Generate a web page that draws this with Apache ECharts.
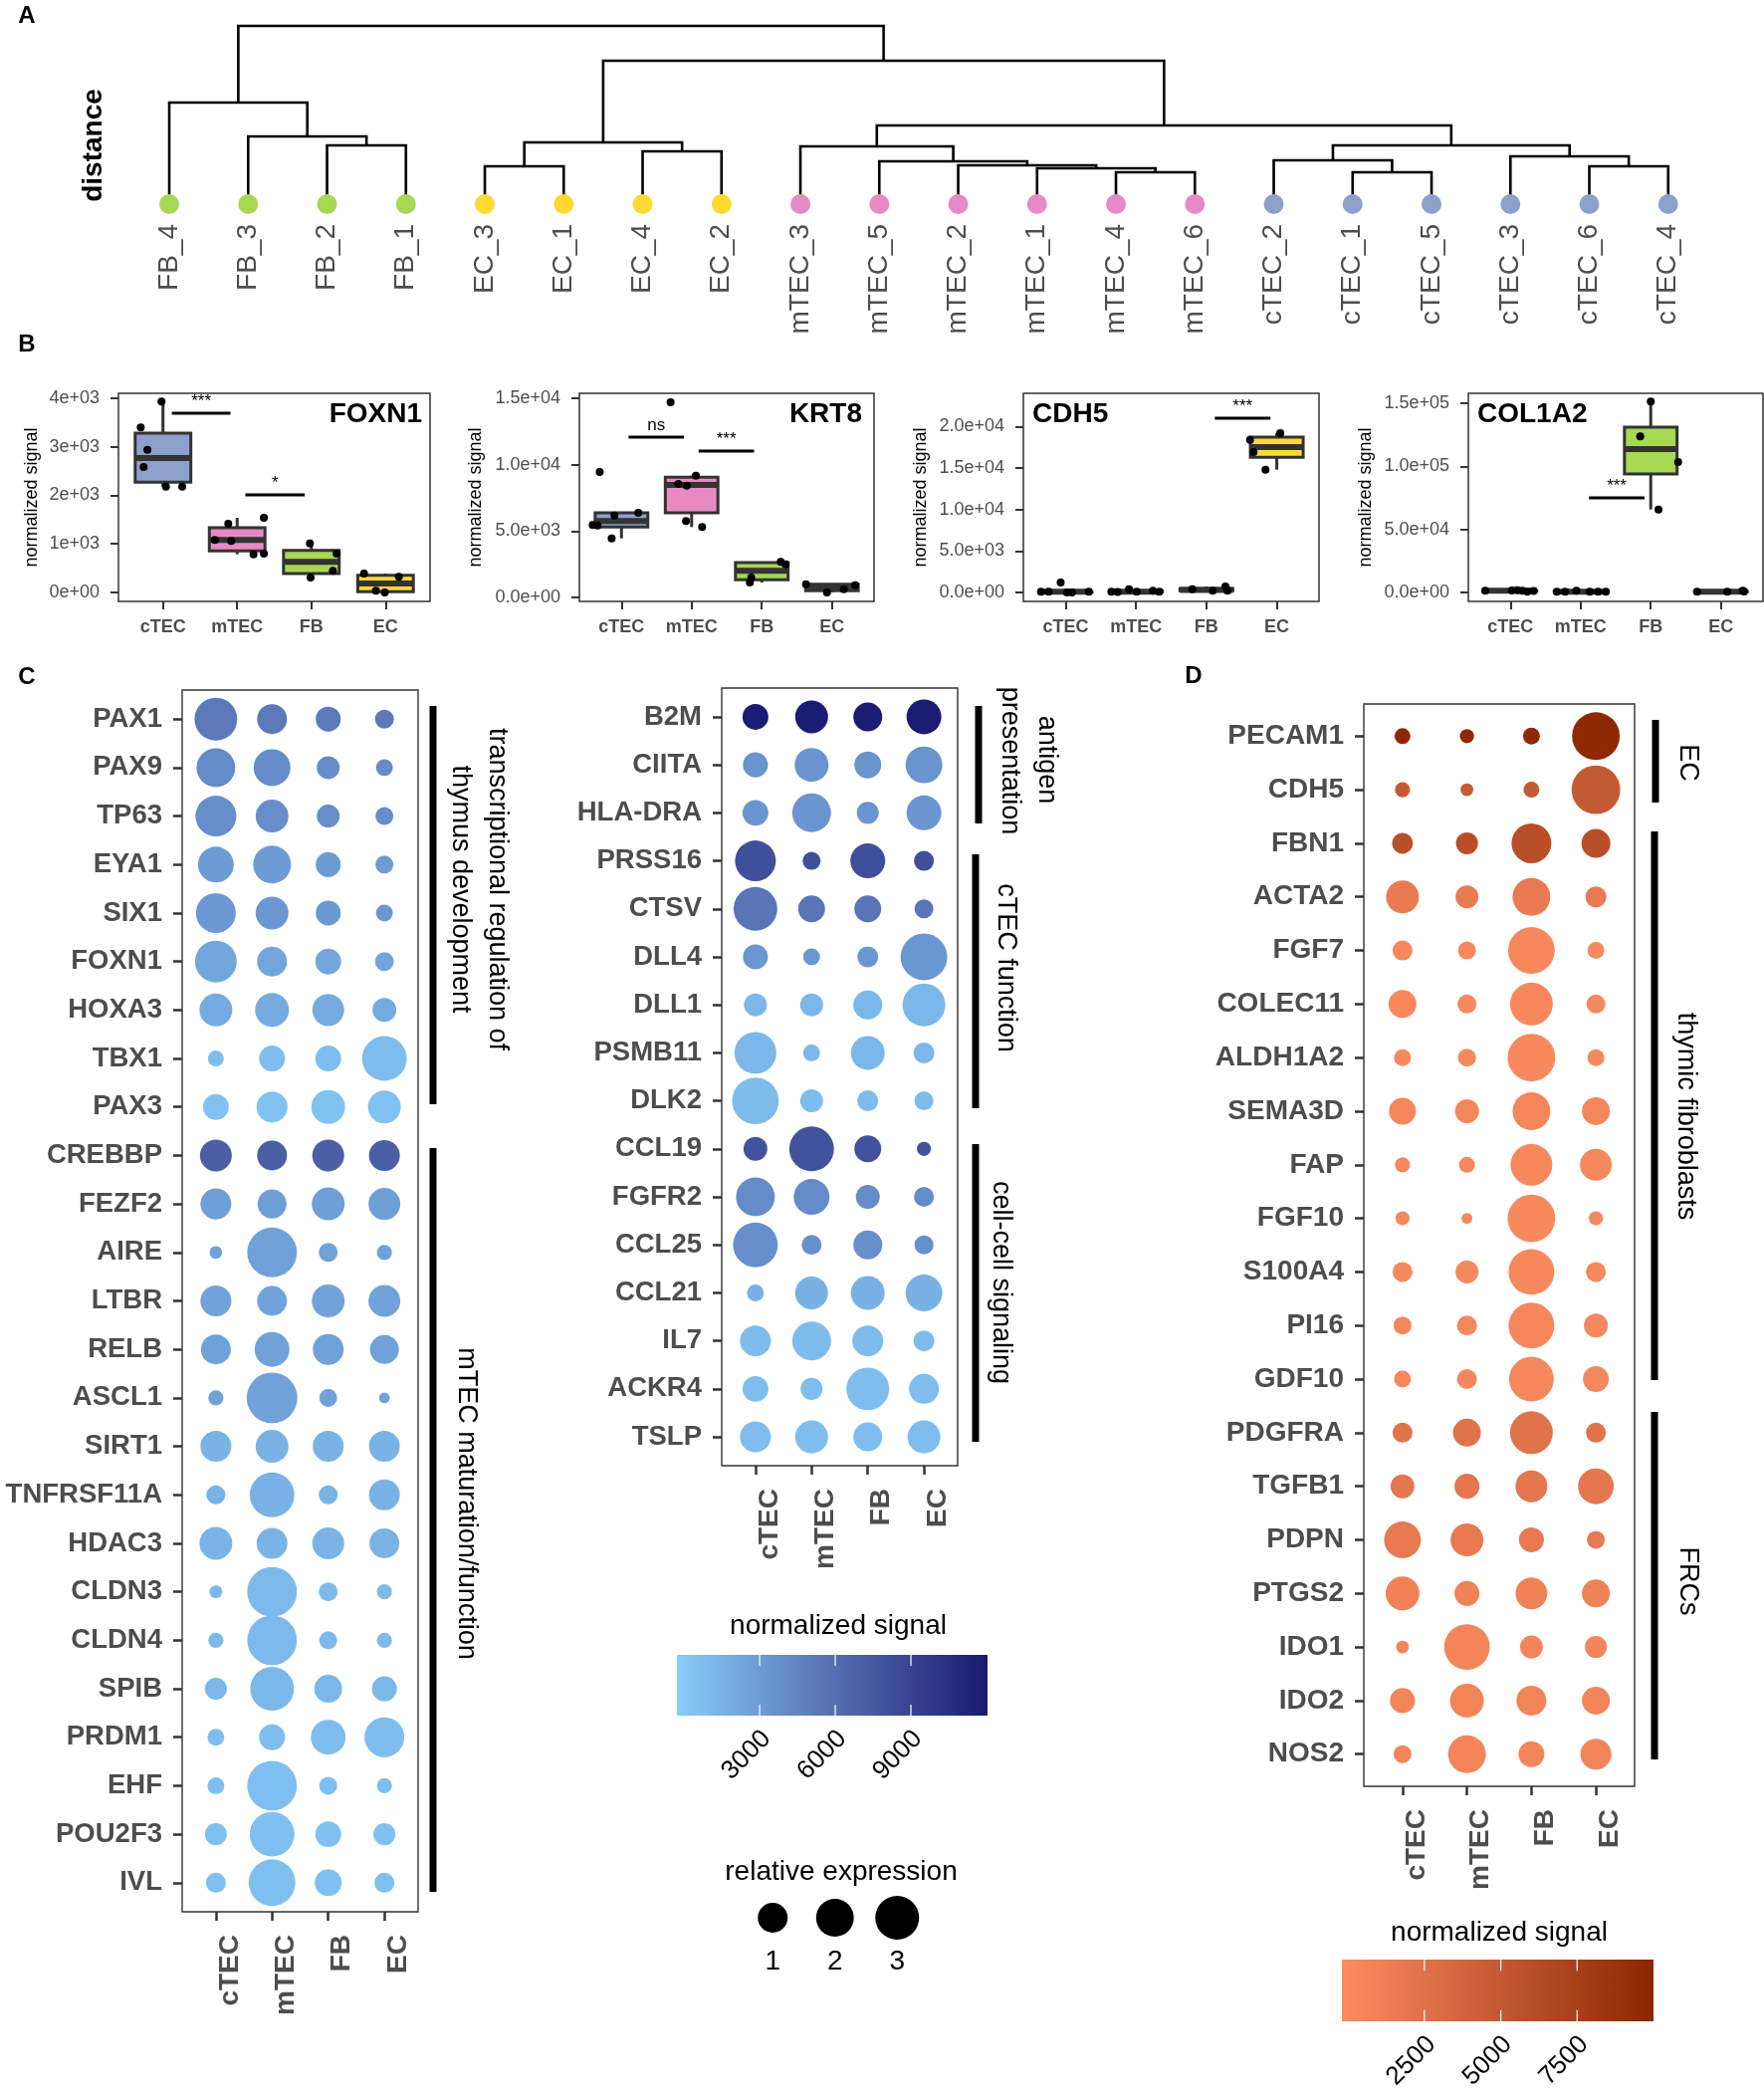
<!DOCTYPE html>
<html>
<head>
<meta charset="utf-8">
<title>Thymic stroma expression</title>
<script src="https://cdn.jsdelivr.net/npm/echarts@6/dist/echarts.min.js"></script>
<style>
  html, body { margin: 0; padding: 0; background: #fff; }
  #chart { width: 1772px; height: 2102px; }
</style>
</head>
<body>
<div id="chart"></div>
<script>
const FONT = 'Liberation Sans, Arial, sans-serif';
const cellTypes = ['cTEC', 'mTEC', 'FB', 'EC'];
const cellColors = ['#8da0cb', '#e78ac3', '#a6d854', '#ffd92f'];

// ---- A: dendrogram ----
const leaves = ['FB_4', 'FB_3', 'FB_2', 'FB_1', 'EC_3', 'EC_1', 'EC_4', 'EC_2',
  'mTEC_3', 'mTEC_5', 'mTEC_2', 'mTEC_1', 'mTEC_4', 'mTEC_6',
  'cTEC_2', 'cTEC_1', 'cTEC_5', 'cTEC_3', 'cTEC_6', 'cTEC_4'];
// hclust style: negative = leaf (1-based, in leaf order), positive = earlier merge row
const merges = [
  [-3, -4, 0.59], [-2, 1, 0.68], [-1, 2, 1.02],
  [-5, -6, 0.38], [-7, -8, 0.53], [4, 5, 0.62],
  [-13, -14, 0.32], [-12, 7, 0.36], [-11, 8, 0.39], [-10, 9, 0.43], [-9, 10, 0.58],
  [-16, -17, 0.32], [-15, 12, 0.44], [-19, -20, 0.38], [-18, 14, 0.48], [13, 15, 0.59],
  [11, 16, 0.79], [6, 17, 1.44], [3, 18, 1.79]
];

// ---- B: boxplots, [min, q1, median, q3, max] per cell type ----
const boxFOXN1 = [[2181, 2270, 2770, 3282, 3932], [786, 855, 1080, 1333, 1538], [308, 390, 629, 868, 1012], [0, 14, 185, 355, 390]];
const ptsFOXN1 = [[3932, 3398, 2940, 2585, 2181, 2181], [1415, 1538, 1080, 1060, 786, 800], [1012, 800, 444, 308], [390, 321, 34, 0]];
const jitFOXN1 = [[-0.02, -0.30, -0.21, -0.26, 0.04, 0.26], [-0.12, 0.36, -0.30, -0.08, 0.22, 0.36], [-0.02, 0.34, 0.29, -0.01], [-0.29, 0.18, -0.13, -0.01]];
const boxKRT8 = [[4450, 5300, 5750, 6375, 6375], [5300, 6375, 8475, 9050, 9175], [1125, 1325, 2000, 2625, 2675], [375, 500, 750, 1000, 1000]];
const ptsKRT8 = [[9450, 6175, 6375, 5450, 5425, 4450], [14700, 9175, 8550, 8425, 5750, 5300], [2675, 2500, 1500, 1125], [1000, 925, 625, 375]];
const jitKRT8 = [[-0.31, -0.10, 0.24, -0.41, -0.34, -0.14], [-0.30, 0.06, -0.19, -0.07, -0.08, 0.15], [0.27, 0.34, -0.15, -0.17], [-0.37, 0.33, 0.17, -0.07]];
const boxCDH5 = [[0, 20, 80, 90, 90], [60, 80, 80, 170, 400], [200, 200, 300, 480, 720], [14800, 16280, 17520, 18720, 19200]];
const ptsCDH5 = [[80, 80, 1200, 0, 0, 80], [80, 400, 80, 200, 80, 60], [400, 200, 720, 200], [19200, 18400, 16920, 14800]];
const jitCDH5 = [[-0.35, -0.24, -0.07, 0.02, 0.09, 0.33], [-0.35, -0.10, 0.01, 0.24, 0.33, -0.26], [-0.20, 0.09, 0.27, 0.30], [0.05, -0.38, -0.33, -0.16]];
const boxCOL1A2 = [[600, 1200, 1300, 1450, 1800], [500, 500, 500, 575, 600], [65800, 94000, 113700, 131100, 151300], [500, 500, 600, 900, 1300]];
const ptsCOL1A2 = [[1300, 1500, 1800, 1300, 600, 1200], [500, 500, 1300, 500, 500, 600], [151300, 123700, 103400, 65800], [500, 500, 1300, 700]];
const jitCOL1A2 = [[-0.36, 0.02, 0.10, 0.17, 0.24, 0.33], [-0.34, -0.22, -0.06, 0.13, 0.25, 0.36], [0, -0.15, 0.39, 0.11], [-0.34, 0.09, 0.31, 0.33]];

const rangeFOXN1 = [-185, 4103], ticksFOXN1 = [0, 1000, 2000, 3000, 4000];
const labelsFOXN1 = ['0e+00', '1e+03', '2e+03', '3e+03', '4e+03'];
const rangeKRT8 = [-300, 15375], ticksKRT8 = [0, 5000, 10000, 15000];
const labelsKRT8 = ['0.0e+00', '5.0e+03', '1.0e+04', '1.5e+04'];
const rangeCDH5 = [-1080, 24000], ticksCDH5 = [0, 5000, 10000, 15000, 20000];
const labelsCDH5 = ['0.0e+00', '5.0e+03', '1.0e+04', '1.5e+04', '2.0e+04'];
const rangeCOL1A2 = [-7100, 157900], ticksCOL1A2 = [0, 50000, 100000, 150000];
const labelsCOL1A2 = ['0.0e+00', '5.0e+04', '1.0e+05', '1.5e+05'];

// significance bars: [from, to, height], text separately
const sigFOXN1 = [[0.12, 0.91, 3692], [1.11, 1.91, 2010]], sigTextFOXN1 = ['***', '*'];
const sigKRT8 = [[0.10, 0.89, 12080], [1.10, 1.89, 11030]], sigTextKRT8 = ['ns', '***'];
const sigCDH5 = [[2.12, 2.91, 21000]], sigTextCDH5 = ['***'];
const sigCOL1A2 = [[1.12, 1.91, 75000]], sigTextCOL1A2 = ['***'];

// ---- C: dot plots (relative expression per cell type, normalized signal per gene) ----
const genesC1 = ['PAX1', 'PAX9', 'TP63', 'EYA1', 'SIX1', 'FOXN1', 'HOXA3', 'TBX1', 'PAX3', 'CREBBP', 'FEZF2', 'AIRE',
  'LTBR', 'RELB', 'ASCL1', 'SIRT1', 'TNFRSF11A', 'HDAC3', 'CLDN3', 'CLDN4', 'SPIB', 'PRDM1', 'EHF', 'POU2F3', 'IVL'];
const relC1 = [
  [2.82, 1.00, 0.55, 0.18], [2.16, 1.86, 0.40, 0.10], [2.48, 1.34, 0.40, 0.14], [1.72, 2.01, 0.55, 0.14],
  [2.32, 1.34, 0.55, 0.10], [2.64, 1.00, 0.62, 0.18], [1.34, 1.46, 1.22, 0.47], [0.07, 0.62, 0.62, 3.17],
  [0.62, 1.11, 1.46, 1.34], [1.22, 1.00, 1.22, 1.11], [1.11, 0.90, 1.34, 1.22], [0.01, 4.17, 0.18, 0.05],
  [1.11, 1.00, 1.34, 1.22], [1.00, 1.59, 1.11, 0.90], [0.05, 4.39, 0.14, 0.00], [1.11, 1.34, 1.11, 1.11],
  [0.18, 3.17, 0.18, 1.11], [1.34, 1.11, 1.22, 1.00], [0.01, 4.17, 0.18, 0.05], [0.05, 4.17, 0.14, 0.05],
  [0.34, 2.99, 0.80, 0.55], [0.10, 0.62, 1.59, 2.32], [0.10, 4.17, 0.14, 0.05], [0.34, 3.17, 0.62, 0.34],
  [0.23, 3.55, 0.71, 0.23]
];
const signalC1 = [5200, 4000, 3900, 3000, 3200, 2400, 2000, 800, 500, 7000, 2800, 2600,
  2500, 2600, 2600, 1500, 1500, 1400, 1000, 1000, 1200, 800, 700, 600, 600];

const genesC2 = ['B2M', 'CIITA', 'HLA-DRA', 'PRSS16', 'CTSV', 'DLL4', 'DLL1', 'PSMB11', 'DLK2', 'CCL19', 'FGFR2',
  'CCL25', 'CCL21', 'IL7', 'ACKR4', 'TSLP'];
const relC2 = [
  [0.62, 1.34, 0.90, 1.59], [0.55, 1.46, 0.71, 1.86], [0.62, 2.16, 0.34, 1.59], [2.48, 0.14, 1.59, 0.23],
  [2.99, 0.71, 0.71, 0.18], [0.55, 0.10, 0.28, 3.55], [0.40, 0.40, 0.90, 2.82], [2.64, 0.10, 1.46, 0.28],
  [3.55, 0.40, 0.28, 0.18], [0.47, 3.17, 0.71, 0.03], [2.16, 1.72, 0.47, 0.23], [3.17, 0.23, 0.90, 0.18],
  [0.10, 1.34, 1.46, 1.86], [1.11, 2.16, 1.11, 0.28], [0.62, 0.34, 2.82, 1.00], [1.11, 1.34, 0.90, 1.34]
];
const signalC2 = [11800, 3500, 3400, 8200, 5500, 3300, 1200, 1200, 900, 7900, 4000, 3800, 1600, 900, 800, 800];

// ---- D ----
const genesD = ['PECAM1', 'CDH5', 'FBN1', 'ACTA2', 'FGF7', 'COLEC11', 'ALDH1A2', 'SEMA3D', 'FAP', 'FGF10', 'S100A4',
  'PI16', 'GDF10', 'PDGFRA', 'TGFB1', 'PDPN', 'PTGS2', 'IDO1', 'IDO2', 'NOS2'];
const relD = [
  [0.07, 0.03, 0.10, 3.75], [0.05, 0.01, 0.07, 3.96], [0.28, 0.34, 2.32, 0.90], [1.34, 0.40, 2.01, 0.28],
  [0.23, 0.14, 3.55, 0.10], [0.80, 0.18, 2.82, 0.18], [0.10, 0.14, 3.75, 0.10], [0.71, 0.47, 2.01, 0.80],
  [0.05, 0.07, 2.64, 1.22], [0.03, 0.00, 3.75, 0.03], [0.23, 0.40, 3.36, 0.23], [0.14, 0.23, 3.36, 0.47],
  [0.10, 0.23, 3.17, 0.62], [0.23, 0.80, 2.82, 0.23], [0.47, 0.55, 1.22, 1.72], [1.86, 1.34, 0.55, 0.14],
  [1.46, 0.55, 1.22, 0.80], [0.01, 3.36, 0.40, 0.34], [0.55, 1.46, 1.00, 0.80], [0.14, 2.01, 0.62, 1.11]
];
const signalD = [9600, 4800, 6000, 1600, 300, 300, 250, 500, 350, 250, 350, 400, 450, 2400, 2000, 1700, 900, 600, 700, 600];

const sizeLevels = [1, 2, 3];
const blueStops = ['#87cefa', '#566fb3', '#191970'], blueRange = [-280, 12040], blueTicks = [3000, 6000, 9000];
const redStops = ['#fc8d62', '#c45a33', '#8b2500'], redRange = [-200, 10000], redTicks = [2500, 5000, 7500];

const sizeOf = v => 10.9 + 19.1 * Math.sqrt(v);

// ---------------------------------------------------------------
const chart = echarts.init(document.getElementById('chart'), null, { renderer: 'canvas' });
const grids = [], xAxes = [], yAxes = [], series = [], graphics = [];
const noLine = { show: false, onZero: false };

// dendrogram segments
function nodePos(ref) {
  if (ref < 0) return { x: -ref - 1, h: 0 };
  const m = merges[ref - 1];
  const a = nodePos(m[0]), b = nodePos(m[1]);
  return { x: (a.x + b.x) / 2, h: m[2] };
}
const dendroSegs = merges.map(m => {
  const a = nodePos(m[0]), b = nodePos(m[1]);
  return [a.x, a.h, b.x, b.h, m[2]];
});

grids.push({ left: 130.4, top: 26, width: 1585, height: 179 });
xAxes.push({
  type: 'category', gridIndex: 0, data: leaves, boundaryGap: true,
  axisLine: noLine, axisTick: { show: false },
  axisLabel: { rotate: 90, margin: 20, interval: 0, fontSize: 28, color: '#4d4d4d', fontFamily: FONT }
});
yAxes.push({
  type: 'value', gridIndex: 0, min: 0, max: 1.79,
  axisLine: noLine, axisTick: { show: false }, axisLabel: { show: false }, splitLine: { show: false }
});
series.push({
  type: 'custom', xAxisIndex: 0, yAxisIndex: 0, silent: true,
  data: dendroSegs.map(s => [Math.round((s[0] + s[2]) / 2), s[4]]),
  renderItem: (params, api) => {
    const s = dendroSegs[params.dataIndex];
    const p0 = api.coord([0, 0]), p1 = api.coord([1, 0]);
    const px = x => p0[0] + x * (p1[0] - p0[0]);
    const py = h => api.coord([0, h])[1];
    return {
      type: 'polyline',
      shape: { points: [[px(s[0]), py(s[1])], [px(s[0]), py(s[4])], [px(s[2]), py(s[4])], [px(s[2]), py(s[3])]] },
      style: { stroke: '#000', lineWidth: 2.6, fill: null }
    };
  }
});
series.push({
  type: 'scatter', xAxisIndex: 0, yAxisIndex: 0, symbolSize: 20, z: 3, silent: true,
  data: leaves.map((name, i) => ({
    value: [i, 0],
    itemStyle: { color: cellColors[cellTypes.indexOf(name.split('_')[0])], opacity: 1 }
  }))
});
graphics.push({ type: 'text', x: 94, y: 146, rotation: Math.PI / 2,
  style: { text: 'distance', fontSize: 28, fontWeight: 'bold', fontFamily: FONT, fill: '#000', align: 'center', verticalAlign: 'middle' } });

// B panels
const bPanels = [
  { gene: 'FOXN1', box: boxFOXN1, pts: ptsFOXN1, jit: jitFOXN1, range: rangeFOXN1, ticks: ticksFOXN1, labels: labelsFOXN1, sig: sigFOXN1, sigText: sigTextFOXN1 },
  { gene: 'KRT8', box: boxKRT8, pts: ptsKRT8, jit: jitKRT8, range: rangeKRT8, ticks: ticksKRT8, labels: labelsKRT8, sig: sigKRT8, sigText: sigTextKRT8 },
  { gene: 'CDH5', box: boxCDH5, pts: ptsCDH5, jit: jitCDH5, range: rangeCDH5, ticks: ticksCDH5, labels: labelsCDH5, sig: sigCDH5, sigText: sigTextCDH5 },
  { gene: 'COL1A2', box: boxCOL1A2, pts: ptsCOL1A2, jit: jitCOL1A2, range: rangeCOL1A2, ticks: ticksCOL1A2, labels: labelsCOL1A2, sig: sigCOL1A2, sigText: sigTextCOL1A2 }
];
const bLayout = [
  { left: 119, width: 313, nameGap: 78, tx: 424, align: 'right' },
  { left: 582, width: 296, nameGap: 95, tx: 866, align: 'right' },
  { left: 1028, width: 297, nameGap: 94, tx: 1037, align: 'left' },
  { left: 1475, width: 296, nameGap: 94, tx: 1484, align: 'left' }
];

function boxRender(params, api) {
  const x = api.value(0);
  const lo = api.coord([x, api.value(1)]), q1 = api.coord([x, api.value(2)]);
  const md = api.coord([x, api.value(3)]), q3 = api.coord([x, api.value(4)]);
  const hi = api.coord([x, api.value(5)]);
  const hw = api.size([0.75, 0])[0] / 2;
  return {
    type: 'group', children: [
      { type: 'line', shape: { x1: lo[0], y1: lo[1], x2: q1[0], y2: q1[1] }, style: { stroke: '#333', lineWidth: 3 } },
      { type: 'line', shape: { x1: q3[0], y1: q3[1], x2: hi[0], y2: hi[1] }, style: { stroke: '#333', lineWidth: 3 } },
      { type: 'rect', shape: { x: q3[0] - hw, y: q3[1], width: 2 * hw, height: Math.max(q1[1] - q3[1], 0.5) },
        style: { fill: cellColors[x], stroke: '#333', lineWidth: 3 } },
      { type: 'line', shape: { x1: md[0] - hw, y1: md[1], x2: md[0] + hw, y2: md[1] }, style: { stroke: '#333', lineWidth: 6 } }
    ]
  };
}

bPanels.forEach((p, k) => {
  const gi = grids.length, L = bLayout[k];
  grids.push({ left: L.left, top: 395, width: L.width, height: 209, show: true, borderColor: '#333', borderWidth: 1.5 });
  xAxes.push({
    type: 'value', gridIndex: gi, min: -0.6, max: 3.6,
    axisLine: noLine, splitLine: { show: false },
    axisTick: { show: true, customValues: [0, 1, 2, 3], length: 8, lineStyle: { color: '#333', width: 2 } },
    axisLabel: { customValues: [0, 1, 2, 3], formatter: v => cellTypes[v], margin: 17, fontSize: 18, fontWeight: 'bold', color: '#4d4d4d', fontFamily: FONT }
  });
  yAxes.push({
    type: 'value', gridIndex: gi, min: p.range[0], max: p.range[1],
    axisLine: noLine, splitLine: { show: false },
    axisTick: { show: true, customValues: p.ticks, length: 8, lineStyle: { color: '#333', width: 2 } },
    axisLabel: { customValues: p.ticks, formatter: v => p.labels[p.ticks.indexOf(v)], margin: 19, fontSize: 18, color: '#4d4d4d', fontFamily: FONT },
    name: 'normalized signal', nameLocation: 'middle', nameRotate: 90, nameGap: L.nameGap,
    nameTextStyle: { fontSize: 18, color: '#000', fontFamily: FONT }
  });
  series.push({
    type: 'custom', xAxisIndex: gi, yAxisIndex: gi, silent: true,
    data: p.box.map((b, i) => [i, ...b]), renderItem: boxRender
  });
  const pts = [];
  p.pts.forEach((row, i) => row.forEach((v, j) => pts.push([i + p.jit[i][j], v])));
  series.push({
    type: 'scatter', xAxisIndex: gi, yAxisIndex: gi, symbolSize: 8, silent: true, z: 4,
    itemStyle: { color: '#000', opacity: 1 }, data: pts
  });
  series.push({
    type: 'custom', xAxisIndex: gi, yAxisIndex: gi, silent: true, z: 5,
    encode: { x: [0, 1], y: 2 }, data: p.sig,
    renderItem: (params, api) => {
      const a = api.coord([api.value(0), api.value(2)]), b = api.coord([api.value(1), api.value(2)]);
      return {
        type: 'group', children: [
          { type: 'line', shape: { x1: a[0], y1: a[1], x2: b[0], y2: b[1] }, style: { stroke: '#000', lineWidth: 3 } },
          { type: 'text', x: (a[0] + b[0]) / 2, y: a[1] - 3,
            style: { text: p.sigText[params.dataIndex], fontSize: 17, fontFamily: FONT, fill: '#000', align: 'center', verticalAlign: 'bottom' } }
        ]
      };
    }
  });
  graphics.push({ type: 'text', x: L.tx, y: 416,
    style: { text: p.gene, fontSize: 28, fontWeight: 'bold', fontFamily: FONT, fill: '#000', align: L.align, verticalAlign: 'middle' } });
});

// dot plots
function dotPanel(genes, rel, sig, box, labelSize) {
  const gi = grids.length;
  grids.push(Object.assign({ show: true, borderColor: '#333', borderWidth: 1.4 }, box));
  xAxes.push({
    type: 'value', gridIndex: gi, min: -0.6, max: 3.6,
    axisLine: noLine, splitLine: { show: false },
    axisTick: { show: true, customValues: [0, 1, 2, 3], length: 9, lineStyle: { color: '#333', width: 2.5 } },
    // ggplot leaves the rotated labels a little right of their ticks
    axisLabel: { customValues: [0, 1, 2, 3], formatter: v => cellTypes[v], rotate: 90, margin: 23, verticalAlign: 'top',
      fontSize: 28, fontWeight: 'bold', color: '#4d4d4d', fontFamily: FONT }
  });
  const rows = genes.map((g, i) => i);
  yAxes.push({
    type: 'value', gridIndex: gi, min: -0.6, max: genes.length - 0.4, inverse: true,
    axisLine: noLine, splitLine: { show: false },
    axisTick: { show: true, customValues: rows, length: 9, lineStyle: { color: '#333', width: 2.5 } },
    axisLabel: { customValues: rows, formatter: v => genes[v], margin: 20, fontSize: labelSize, fontWeight: 'bold', color: '#4d4d4d', fontFamily: FONT }
  });
  const data = [];
  rel.forEach((row, r) => row.forEach((v, c) => data.push([c, r, v, sig[r]])));
  series.push({
    type: 'scatter', xAxisIndex: gi, yAxisIndex: gi, silent: true,
    symbolSize: val => sizeOf(val[2]), itemStyle: { opacity: 1 }, data
  });
  return series.length - 1;
}
const sC1 = dotPanel(genesC1, relC1, signalC1, { left: 183, top: 693, width: 237, height: 1227 }, 27.5);
const sC2 = dotPanel(genesC2, relC2, signalC2, { left: 725, top: 691, width: 237, height: 781 }, 27.5);
const sD = dotPanel(genesD, relD, signalD, { left: 1370, top: 707, width: 272, height: 1087 }, 28);

// size legend
const gl = grids.length;
grids.push({ left: 745, top: 1906, width: 187.5, height: 40 });
xAxes.push({
  type: 'category', gridIndex: gl, data: sizeLevels.map(String), boundaryGap: true,
  axisLine: noLine, axisTick: { show: false },
  axisLabel: { margin: 10, fontSize: 28, color: '#000', fontFamily: FONT }
});
yAxes.push({ type: 'value', gridIndex: gl, min: -1, max: 1, show: false });
series.push({
  type: 'scatter', xAxisIndex: gl, yAxisIndex: gl, silent: true,
  symbolSize: val => sizeOf(val[2]), itemStyle: { color: '#000', opacity: 1 },
  data: sizeLevels.map((v, i) => [i, 0, v])
});

// panel letters
[['A', 27, 16], ['B', 27, 346], ['C', 27, 680], ['D', 1199, 679]].forEach(([t, x, y]) => {
  graphics.push({ type: 'text', x, y, style: { text: t, fontSize: 24, fontWeight: 'bold', fontFamily: FONT, fill: '#000', align: 'center', verticalAlign: 'middle' } });
});

// group brackets
[[435, 709, 1109], [435, 1153, 1900], [983, 709, 827], [980, 858, 1113], [980, 1149, 1448],
 [1663, 723, 806], [1662, 835, 1386], [1662, 1418, 1767]].forEach(([x, y1, y2]) => {
  graphics.push({ type: 'rect', shape: { x: x - 3.5, y: y1, width: 7, height: y2 - y1 }, style: { fill: '#000' } });
});
[['transcriptional regulation of', 499, 893], ['thymus development', 462, 893], ['mTEC maturation/function', 468, 1510],
 ['antigen', 1051, 763], ['presentation', 1014, 764], ['cTEC function', 1010, 972], ['cell-cell signaling', 1005, 1288],
 ['EC', 1695, 766], ['thymic fibroblasts', 1693, 1121], ['FRCs', 1695, 1588]].forEach(([t, x, y]) => {
  graphics.push({ type: 'text', x, y, rotation: -Math.PI / 2,
    style: { text: t, fontSize: 27, fontFamily: FONT, fill: '#000', align: 'center', verticalAlign: 'middle' } });
});

// colour bars
function colorbar(x, y, w, h, stops, range, ticks) {
  graphics.push({
    type: 'rect', shape: { x, y, width: w, height: h },
    style: { fill: new echarts.graphic.LinearGradient(0, 0, 1, 0, stops.map((c, i) => ({ offset: i / (stops.length - 1), color: c }))) }
  });
  ticks.forEach(t => {
    const tx = x + (t - range[0]) / (range[1] - range[0]) * w;
    graphics.push({ type: 'line', shape: { x1: tx, y1: y, x2: tx, y2: y + h * 0.18 }, style: { stroke: '#fff', lineWidth: 1.2 } });
    graphics.push({ type: 'line', shape: { x1: tx, y1: y + h * 0.82, x2: tx, y2: y + h }, style: { stroke: '#fff', lineWidth: 1.2 } });
    graphics.push({ type: 'text', x: tx - 2, y: y + h + 10, rotation: Math.PI / 4,
      style: { text: String(t), fontSize: 26, fontFamily: FONT, fill: '#000', align: 'right', verticalAlign: 'top' } });
  });
}
colorbar(680, 1662, 312, 61, blueStops, blueRange, blueTicks);
colorbar(1348, 1968, 313, 62, redStops, redRange, redTicks);
[['normalized signal', 842, 1633], ['relative expression', 845, 1880], ['normalized signal', 1506, 1941]].forEach(([t, x, y]) => {
  graphics.push({ type: 'text', x, y, style: { text: t, fontSize: 28, fontFamily: FONT, fill: '#000', align: 'center', verticalAlign: 'middle' } });
});

chart.setOption({
  backgroundColor: '#fff',
  animation: false,
  textStyle: { fontFamily: FONT },
  grid: grids,
  xAxis: xAxes,
  yAxis: yAxes,
  visualMap: [
    { type: 'continuous', show: false, seriesIndex: [sC1, sC2], dimension: 3, min: blueRange[0], max: blueRange[1], inRange: { color: blueStops } },
    { type: 'continuous', show: false, seriesIndex: [sD], dimension: 3, min: redRange[0], max: redRange[1], inRange: { color: redStops } }
  ],
  series,
  graphic: graphics
});
</script>
</body>
</html>
